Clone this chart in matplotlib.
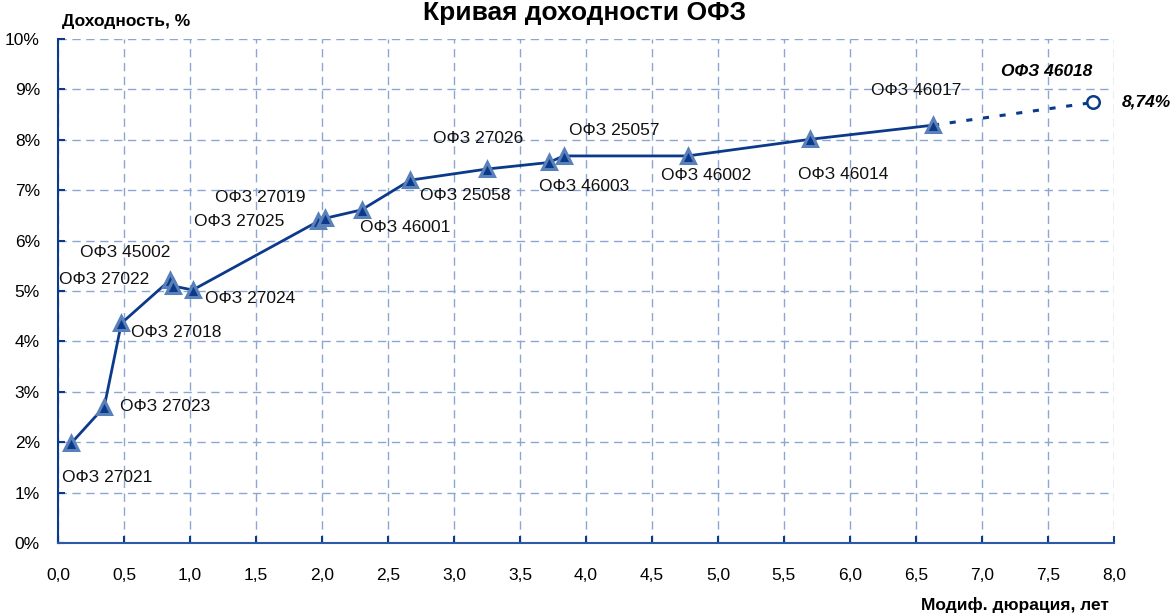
import matplotlib.pyplot as plt
from matplotlib.ticker import FuncFormatter, MultipleLocator

plt.rcParams["font.family"] = ["Liberation Sans", "DejaVu Sans"]

# bonds on the curve (modified duration, years; yield, %)
bonds = ["ОФЗ 27021", "ОФЗ 27023", "ОФЗ 27018", "ОФЗ 45002", "ОФЗ 27022", "ОФЗ 27024",
         "ОФЗ 27025", "ОФЗ 27019", "ОФЗ 46001", "ОФЗ 25058", "ОФЗ 27026", "ОФЗ 46003",
         "ОФЗ 25057", "ОФЗ 46002", "ОФЗ 46014", "ОФЗ 46017"]
duration = [0.10, 0.35, 0.48, 0.85, 0.87, 1.02, 1.97, 2.02, 2.30, 2.67, 3.25, 3.72,
            3.83, 4.77, 5.70, 6.63]
yields = [1.98, 2.70, 4.36, 5.22, 5.10, 5.02, 6.38, 6.44, 6.61, 7.20, 7.42, 7.55,
          7.68, 7.68, 8.01, 8.29]

# new issue
new_bond = "ОФЗ 46018"
new_duration = 7.84
new_yield = 8.74

# label placement (offset in points, horizontal alignment)
label_pos = {
    "ОФЗ 27021": ((-7, -25), "left"),
    "ОФЗ 27023": ((11, 0), "left"),
    "ОФЗ 27018": ((7, -7), "left"),
    "ОФЗ 45002": ((0, 20), "right"),
    "ОФЗ 27022": ((-17, 5), "right"),
    "ОФЗ 27024": ((9, -6), "left"),
    "ОФЗ 27025": ((-24, 0), "right"),
    "ОФЗ 27019": ((-14, 15), "right"),
    "ОФЗ 46001": ((-1, -13), "left"),
    "ОФЗ 25058": ((7, -11), "left"),
    "ОФЗ 27026": ((-6, 22), "center"),
    "ОФЗ 46003": ((-7, -17), "left"),
    "ОФЗ 25057": ((4, 18), "left"),
    "ОФЗ 46002": ((-19, -14), "left"),
    "ОФЗ 46014": ((-9, -25), "left"),
    "ОФЗ 46017": ((-12, 25), "center"),
}

navy = "#0b3a8a"
edge = "#5a80ba"
grid = "#8aa6d2"

fig = plt.figure(figsize=(11.7, 6.16), dpi=100)
ax = fig.add_axes([0.0496, 0.1185, 0.9024, 0.8182])

ax.plot(duration, yields, color=navy, lw=2, zorder=3)
ax.plot(duration, yields, ls="none", marker="^", ms=9.5, mfc=navy, mec=edge, mew=2.2, zorder=4)
ax.plot([duration[-1], new_duration], [yields[-1], new_yield], color=navy, lw=2.2,
        ls=(0, (2, 3.5)), zorder=2)
ax.plot([new_duration], [new_yield], ls="none", marker="o", ms=9, mfc="white", mec=navy,
        mew=1.8, zorder=4)

for name, x, y in zip(bonds, duration, yields):
    off, ha = label_pos[name]
    ax.annotate(name, (x, y), xytext=off, textcoords="offset points", ha=ha, va="center",
                fontsize=12.5, color="#111111")

ax.annotate(new_bond, (new_duration, new_yield), xytext=(0, 22), textcoords="offset points",
            ha="right", va="center", fontsize=12.5, fontweight="bold", fontstyle="italic")
ax.annotate(f"{new_yield:.2f}%".replace(".", ","), (new_duration, new_yield), xytext=(21, 0),
            textcoords="offset points", ha="left", va="center", fontsize=12.5,
            fontweight="bold", fontstyle="italic")

ax.set_xlim(0, 8)
ax.set_ylim(0, 10)
ax.xaxis.set_major_locator(MultipleLocator(0.5))
ax.yaxis.set_major_locator(MultipleLocator(1))
ax.xaxis.set_major_formatter(FuncFormatter(lambda v, p: f"{v:.1f}".replace(".", ",")))
ax.yaxis.set_major_formatter(FuncFormatter(lambda v, p: f"{v:.0f}%"))
ax.tick_params(axis="both", labelsize=12.5, length=5, color=navy, width=1.5, direction="in")
ax.tick_params(axis="x", pad=18)
ax.tick_params(axis="y", pad=13)

ax.grid(True, color=grid, ls=(0, (6, 4)), lw=1)
ax.set_axisbelow(True)
for side in ["top", "right"]:
    ax.spines[side].set_visible(False)
ax.spines["left"].set_color(navy)
ax.spines["left"].set_linewidth(1.5)
ax.spines["bottom"].set_color("#2a5aa8")
ax.spines["bottom"].set_linewidth(1.5)

fig.text(0.053, 0.965, "Доходность, %", fontsize=12.5, fontweight="bold", ha="left", va="center")
fig.text(0.948, 0.018, "Модиф. дюрация, лет", fontsize=12.5, fontweight="bold", ha="right",
         va="center")
fig.text(0.5, 0.999, "Кривая доходности ОФЗ", fontsize=19, fontweight="bold", ha="center",
         va="top")

fig.savefig("out.png", dpi=100)
